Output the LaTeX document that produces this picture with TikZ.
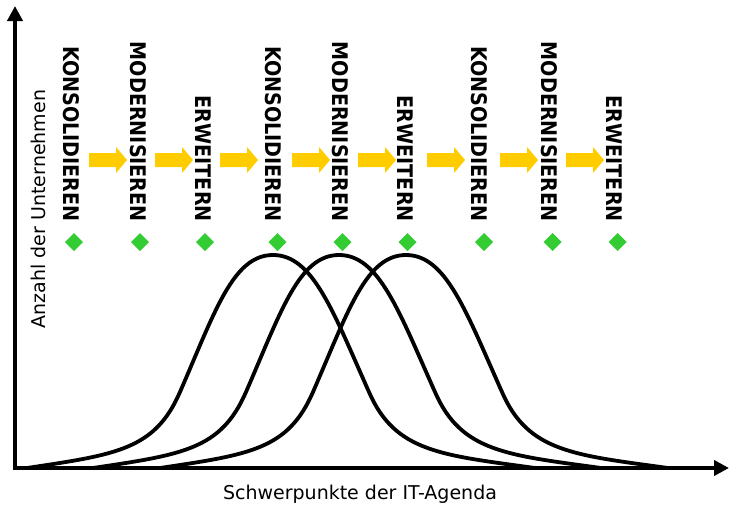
\documentclass[tikz,border=0pt]{standalone}
\usepackage{fontspec}
\setmainfont{DejaVu Sans}
\newfontfamily\lblfont{DejaVu Sans}
\usetikzlibrary{arrows.meta}
\definecolor{arrowyellow}{HTML}{FFCC00}
\definecolor{diagreen}{HTML}{33CC33}
\newcommand{\phasetext}[1]{\scalebox{0.89}[1]{#1}}
\begin{document}
\begin{tikzpicture}[x=1pt,y=-1pt,
  axis/.style={line width=3.8pt,-{Triangle[length=15pt,width=15pt]}},
  phase/.style={rotate=-90,anchor=east,inner sep=0pt,font=\lblfont\bfseries\fontsize{21.5}{21.5}\selectfont},
  marker/.style={fill=diagreen},
  flow/.style={fill=arrowyellow},
  bell/.style={line width=3.8pt,line join=round,line cap=round},
  axislabel/.style={font=\fontsize{19}{19}\selectfont,inner sep=0pt}]
\useasboundingbox (0,0) rectangle (729,509);
% axes
\coordinate (origin) at (15,468);
\coordinate (ytip) at (15,6);
\coordinate (xtip) at (729,468);
\draw[axis] (15,469.9) -- (ytip);
\draw[axis] (13.1,468) -- (xtip);
\node[axislabel,rotate=90] (ylab) at (38,209) {Anzahl der Unternehmen};
\node[axislabel] (xlab) at (360,494) {Schwerpunkte der IT-Agenda};
% phase labels
\foreach \x/\t/\n in {71/KONSOLIDIEREN/k1,138/MODERNISIEREN/m1,203/ERWEITERN/e1,
                      273/KONSOLIDIEREN/k2,340/MODERNISIEREN/m2,405/ERWEITERN/e2,
                      479/KONSOLIDIEREN/k3,549/MODERNISIEREN/m3,614/ERWEITERN/e3}
  \node[phase] (\n) at (\x,222) {\phasetext{\t}};
% diamonds
\foreach \x in {74,140,205,277.5,342.5,407.5,484,552.5,617.5}
  \fill[marker] (\x-9,242) -- (\x,233) -- (\x+9,242) -- (\x,251) -- cycle;
% yellow arrows
\foreach \x in {89,155,220,292,358,427,500,566}
  \fill[flow] (\x,153) -- (\x+27,153) -- (\x+27,147) -- (\x+38,160) -- (\x+27,173) -- (\x+27,167) -- (\x,167) -- cycle;
% bell curves
\foreach \c in {273,339,406}
  \draw[bell] (\c-246,468) .. controls (\c-156,454.5) and (\c-118,449.5) .. (\c-93,392)
    .. controls (\c-58,311.5) and (\c-40,255) .. (\c,255)
    .. controls (\c+40,255) and (\c+60,311.5) .. (\c+96,392)
    .. controls (\c+122,452) and (\c+168,455) .. (\c+262,468);
\end{tikzpicture}
\end{document}
